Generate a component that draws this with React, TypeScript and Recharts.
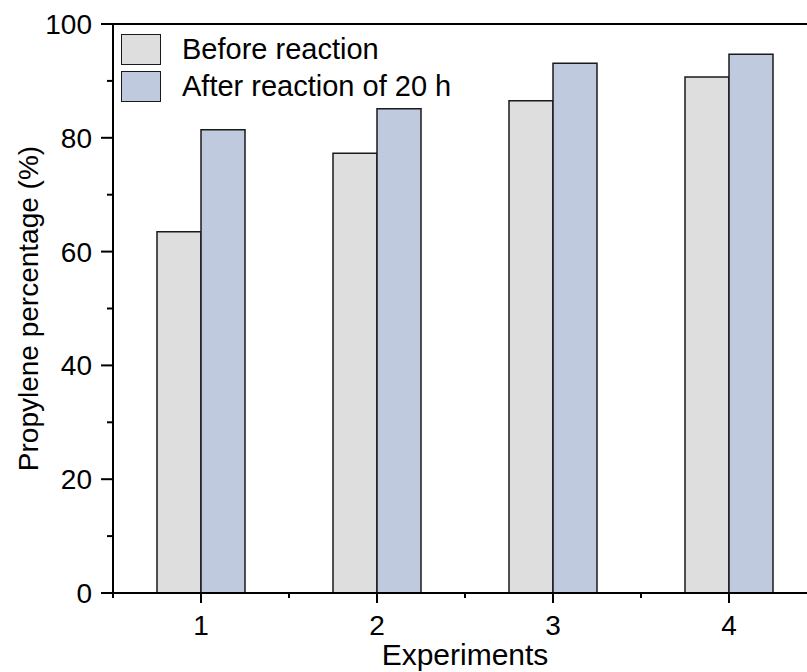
import React from "react";
import {
  BarChart, Bar, XAxis, YAxis, ReferenceLine,
} from "recharts";

const experiments = ["1", "2", "3", "4"];
const beforeReaction = [63.5, 77.3, 86.5, 90.7];
const afterReaction = [81.4, 85.1, 93.1, 94.7];
const yTicks = [0, 10, 20, 30, 40, 50, 60, 70, 80, 90, 100];
const seriesLabels = ["Before reaction", "After reaction of 20 h"];

const data = experiments.map((exp, i) => ({
  exp,
  before: beforeReaction[i],
  after: afterReaction[i],
}));

const FONT = "'Liberation Sans', Arial, sans-serif";
const GRAY = "#DEDEDE";
const BLUE = "#BFCADF";
const EDGE = "#1a1a1a";

const YTick = ({ x, y, payload }: any) => {
  const axisX = x + 21;
  const major = payload.value % 20 === 0;
  return (
    <g>
      <line x1={axisX - (major ? 12 : 6)} x2={axisX} y1={y} y2={y} stroke="#000" strokeWidth={2} />
      {major && (
        <text x={x} y={y} dy="0.36em" textAnchor="end" fontSize={28} fontFamily={FONT} fill="#000">
          {payload.value}
        </text>
      )}
    </g>
  );
};

const XTick = ({ x, y, payload, index, visibleTicksCount }: any) => {
  const axisY = y - 22;
  const half = payload.offset || 88;
  return (
    <g>
      <line x1={x} x2={x} y1={axisY} y2={axisY + 10} stroke="#000" strokeWidth={2} />
      <line x1={x - half} x2={x - half} y1={axisY} y2={axisY + 5} stroke="#000" strokeWidth={2} />
      {index === visibleTicksCount - 1 && (
        <line x1={x + half} x2={x + half} y1={axisY} y2={axisY + 5} stroke="#000" strokeWidth={2} />
      )}
      <text x={x} y={y} dy="0.71em" textAnchor="middle" fontSize={28} fontFamily={FONT} fill="#000">
        {payload.value}
      </text>
    </g>
  );
};

const LegendBox = () => (
  <div style={{ position: "absolute", left: 121, top: 31, fontFamily: FONT, fontSize: 29, color: "#000" }}>
    {[GRAY, BLUE].map((color, i) => (
      <div key={seriesLabels[i]} style={{ display: "flex", alignItems: "center", height: 37 }}>
        <div
          style={{
            width: 38, height: 29, background: color,
            border: `1.5px solid ${EDGE}`, marginRight: 21,
          }}
        />
        <span style={{ lineHeight: "29px" }}>{seriesLabels[i]}</span>
      </div>
    ))}
  </div>
);

export default function App() {
  return (
    <div style={{ position: "absolute", left: 0, top: 0, width: 807, height: 672, overflow: "hidden", background: "#fff" }}>
      <BarChart
        width={820}
        height={672}
        data={data}
        margin={{ top: 24, right: 3, left: 0, bottom: 0 }}
        barCategoryGap="25%"
        barGap={0}
      >
        <XAxis
          dataKey="exp"
          height={79}
          axisLine={{ stroke: "#000", strokeWidth: 2 }}
          tickLine={false}
          tickSize={10}
          tickMargin={12}
          tick={<XTick />}
          interval={0}
          label={{
            value: "Experiments", position: "insideBottom", offset: 7,
            style: { fontSize: 30, fontFamily: FONT, fill: "#000" },
          }}
        />
        <YAxis
          width={113}
          domain={[0, 100]}
          ticks={yTicks}
          interval={0}
          axisLine={{ stroke: "#000", strokeWidth: 2 }}
          tickLine={false}
          tickSize={12}
          tickMargin={9}
          tick={<YTick />}
          label={{
            value: "Propylene percentage (%)", angle: -90, position: "insideLeft", offset: 28,
            style: { fontSize: 28, fontFamily: FONT, fill: "#000", textAnchor: "middle" },
          }}
        />
        <ReferenceLine y={100} stroke="#000" strokeWidth={2} />
        <Bar dataKey="before" name={seriesLabels[0]} fill={GRAY} stroke={EDGE} strokeWidth={1.5} isAnimationActive={false} />
        <Bar dataKey="after" name={seriesLabels[1]} fill={BLUE} stroke={EDGE} strokeWidth={1.5} isAnimationActive={false} />
      </BarChart>
      <LegendBox />
    </div>
  );
}
